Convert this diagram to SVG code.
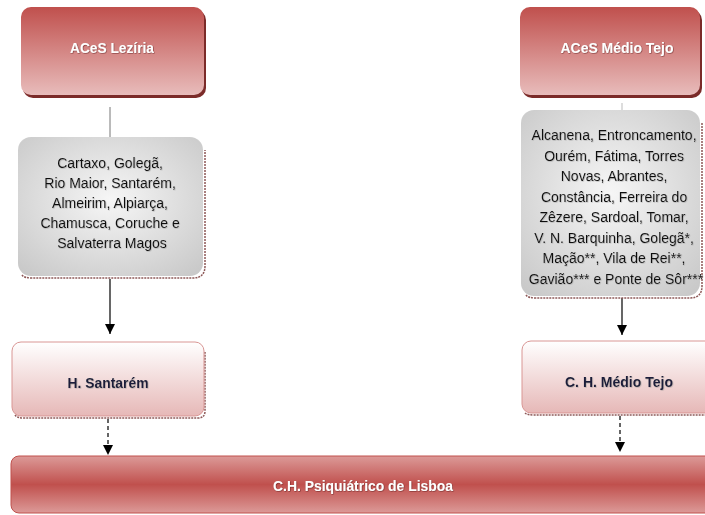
<svg xmlns="http://www.w3.org/2000/svg" width="705" height="515" viewBox="0 0 705 515">
<defs>
<linearGradient id="gHead" x1="0" y1="0" x2="0" y2="1">
<stop offset="0" stop-color="#c0504d"/>
<stop offset="1" stop-color="#e8bcbb"/>
</linearGradient>
<radialGradient id="gGrey" cx="0.5" cy="0.45" r="0.7">
<stop offset="0" stop-color="#f6f6f6"/>
<stop offset="1" stop-color="#c9c9c9"/>
</radialGradient>
<linearGradient id="gHosp" x1="0" y1="0" x2="0" y2="1">
<stop offset="0" stop-color="#ffffff"/>
<stop offset="1" stop-color="#e6b8b7"/>
</linearGradient>
<linearGradient id="gBig" x1="0" y1="0" x2="0" y2="1">
<stop offset="0" stop-color="#dc9a98"/>
<stop offset="0.5" stop-color="#c0504d"/>
<stop offset="1" stop-color="#dc9a98"/>
</linearGradient>
<marker id="arr" viewBox="0 0 10 10" refX="10" refY="5" markerWidth="10" markerHeight="10" markerUnits="userSpaceOnUse" orient="auto">
<path d="M0,0 L10,5 L0,10 Z" fill="#000"/>
</marker>
<filter id="ts" x="-10%" y="-30%" width="120%" height="160%">
<feDropShadow dx="0.6" dy="0.6" stdDeviation="0.5" flood-color="#5a1f1d" flood-opacity="0.7"/>
</filter>
<filter id="ts2" x="-10%" y="-30%" width="120%" height="160%">
<feDropShadow dx="0.6" dy="0.6" stdDeviation="0.5" flood-color="#888" flood-opacity="0.6"/>
</filter>
</defs>
<style>
.head{fill:url(#gHead);}
.headsh{fill:#7b2b29;}
.grey{fill:url(#gGrey);}
.dsh{fill:none;stroke:#8d5857;stroke-width:1.5;stroke-dasharray:2 1;}
.hosp{fill:url(#gHosp);stroke:#d99694;stroke-width:1;}
.big{fill:url(#gBig);stroke:#c0504d;stroke-width:1;}
.wt{font-family:"Liberation Sans",Arial,sans-serif;font-weight:bold;font-size:15.5px;fill:#ffffff;text-anchor:middle;}
.nt{font-family:"Liberation Sans",Arial,sans-serif;font-weight:bold;font-size:15.5px;fill:#1b1f3b;text-anchor:middle;}
.gt{font-family:"Liberation Sans",Arial,sans-serif;font-size:14px;fill:#111111;text-anchor:middle;}
.ln{stroke:#000;stroke-width:1.2;fill:none;}
.lnd{stroke:#555;stroke-width:1.8;fill:none;stroke-dasharray:4 3;}
.lng{stroke:#777;stroke-width:1;fill:none;}
</style>

<g id="connectors">
<line class="lng" x1="110" y1="107" x2="110" y2="137"/>
<line class="ln" x1="110" y1="279" x2="110" y2="334" marker-end="url(#arr)"/>
<line class="lnd" x1="108" y1="419" x2="108" y2="448"/>
<path d="M103,445 L113,445 L108,455 Z" fill="#000"/>
<line x1="622" y1="103" x2="622" y2="110" stroke="#bbb" stroke-width="1"/>
<line class="ln" x1="622" y1="298" x2="622" y2="335" marker-end="url(#arr)"/>
<line class="lnd" x1="620" y1="416" x2="620" y2="445"/>
<path d="M615,442 L625,442 L620,452 Z" fill="#000"/>
</g>

<g id="aces-leziria">
<rect class="headsh" x="23" y="10" width="183" height="88" rx="10"/>
<rect class="head" x="21" y="7" width="183" height="88" rx="10"/>
<text class="wt" x="112" y="52.5" textLength="84" lengthAdjust="spacingAndGlyphs" filter="url(#ts)">ACeS Lezíria</text>
</g>

<g id="aces-medio-tejo">
<rect class="headsh" x="522" y="10" width="180" height="88" rx="10"/>
<rect class="head" x="520" y="7" width="180" height="88" rx="10"/>
<text class="wt" x="617" y="52.5" textLength="113" lengthAdjust="spacingAndGlyphs" filter="url(#ts)">ACeS Médio Tejo</text>
</g>

<g id="concelhos-leziria">
<path class="dsh" d="M22,275 Q24,278 32,278 L193,278 Q205,278 205,266 L205,150"/>
<rect class="grey" x="18" y="137" width="185" height="139" rx="13"/>
<text class="gt" filter="url(#ts2)">
<tspan x="112" y="168">Cartaxo, Golegã,</tspan>
<tspan x="112" y="188">Rio Maior, Santarém,</tspan>
<tspan x="112" y="208">Almeirim, Alpiarça,</tspan>
<tspan x="112" y="228">Chamusca, Coruche e</tspan>
<tspan x="112" y="248">Salvaterra Magos</tspan>
</text>
</g>

<g id="concelhos-medio-tejo">
<path class="dsh" d="M526,295 Q528,298 536,298 L690,298 Q702,298 702,286 L702,122"/>
<rect class="grey" x="521" y="110" width="179" height="186" rx="13"/>
<text class="gt" filter="url(#ts2)">
<tspan x="616" y="140">Alcanena, Entroncamento,</tspan>
<tspan x="616" y="160.5">Ourém, Fátima, Torres</tspan>
<tspan x="616" y="181">Novas, Abrantes,</tspan>
<tspan x="616" y="201.5">Constância, Ferreira do</tspan>
<tspan x="616" y="222">Zêzere, Sardoal, Tomar,</tspan>
<tspan x="616" y="242.5">V. N. Barquinha, Golegã*,</tspan>
<tspan x="616" y="263">Mação**, Vila de Rei**,</tspan>
<tspan x="616" y="283.5">Gavião*** e Ponte de Sôr***</tspan>
</text>
</g>

<g id="h-santarem">
<path class="dsh" d="M15,415 Q17,418 24,418 L198,418 Q205,418 205,411 L205,352" stroke="#666"/>
<rect class="hosp" x="12" y="342" width="192" height="74" rx="9"/>
<text class="nt" x="108" y="387.5" textLength="81" lengthAdjust="spacingAndGlyphs" filter="url(#ts2)">H. Santarém</text>
</g>

<g id="ch-medio-tejo">
<path class="dsh" d="M525,413 Q527,415 534,415 L710,415" stroke="#666"/>
<rect class="hosp" x="522" y="341" width="200" height="72" rx="9"/>
<text class="nt" x="619" y="386.5" textLength="108" lengthAdjust="spacingAndGlyphs" filter="url(#ts2)">C. H. Médio Tejo</text>
</g>

<g id="ch-psiquiatrico">
<rect class="big" x="11" y="456" width="710" height="57" rx="8"/>
<text class="wt" x="363" y="490.5" textLength="180" lengthAdjust="spacingAndGlyphs" filter="url(#ts)">C.H. Psiquiátrico de Lisboa</text>
</g>
</svg>
